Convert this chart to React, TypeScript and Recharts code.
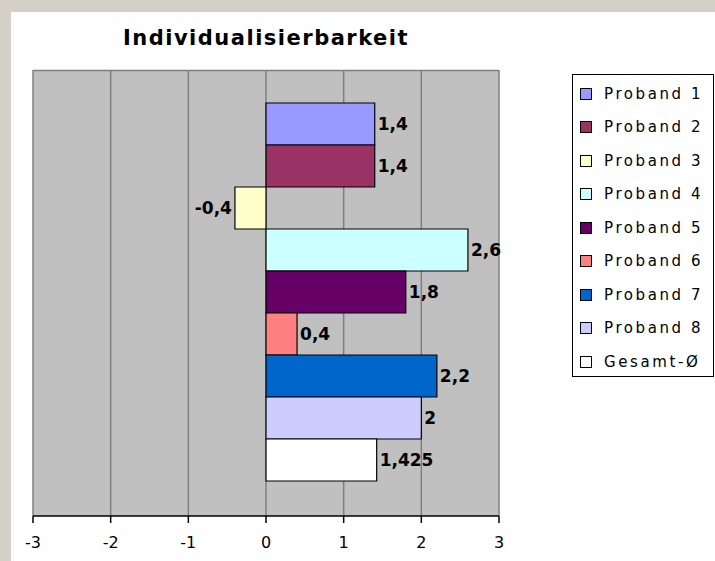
import React from 'react';
import { BarChart, Bar, XAxis, YAxis, CartesianGrid, LabelList } from 'recharts';

const seriesNames = ['Proband 1', 'Proband 2', 'Proband 3', 'Proband 4', 'Proband 5', 'Proband 6', 'Proband 7', 'Proband 8', 'Gesamt-Ø'];
const seriesValues = [1.4, 1.4, -0.4, 2.6, 1.8, 0.4, 2.2, 2, 1.425];
const seriesColors = ['#9999FF', '#993366', '#FFFFCC', '#CCFFFF', '#660066', '#FF8080', '#0066CC', '#CCCCFF', '#FFFFFF'];
const xTicks = [-3, -2, -1, 0, 1, 2, 3];

const row: Record<string, number | string> = { name: 'Individualisierbarkeit' };
seriesNames.forEach((n, i) => {
  row['s' + i] = seriesValues[i];
});
const data = [row];

const fmt = (v: any) => String(v).replace('.', ',');

export default function App() {
  return (
    <div style={{ position: 'absolute', left: 0, top: 0, width: 715, height: 561, background: '#D4D0C8', overflow: 'hidden' }}>
      <div style={{ position: 'absolute', left: 11, top: 12, width: 704, height: 549, background: '#fff' }} />
      <div
        style={{
          position: 'absolute',
          left: 0,
          top: 26,
          width: 532,
          textAlign: 'center',
          fontFamily: 'DejaVu Sans',
          fontWeight: 'bold',
          fontSize: 21,
          letterSpacing: 1.5,
          color: '#000',
          lineHeight: '24px',
        }}
      >
        Individualisierbarkeit
      </div>
      <div style={{ position: 'absolute', left: 0, top: 0 }}>
        <BarChart
          width={715}
          height={561}
          data={data}
          layout="vertical"
          margin={{ top: 70, left: 33, right: 216, bottom: 0 }}
          barGap={0}
          barCategoryGap="7.4%"
        >
          <CartesianGrid
            fill="#C0C0C0"
            fillOpacity={1}
            stroke="#808080"
            strokeWidth={1.5}
            horizontalPoints={[70.5]}
          />
          <XAxis
            type="number"
            domain={[-3, 3]}
            ticks={xTicks}
            height={45}
            tickSize={7}
            tickMargin={14}
            axisLine={{ stroke: '#000', strokeWidth: 1.5 }}
            tickLine={{ stroke: '#000', strokeWidth: 1.5 }}
            tick={{ fill: '#000', fontSize: 16, fontFamily: 'DejaVu Sans' }}
            interval={0}
          />
          <YAxis type="category" dataKey="name" hide />
          {seriesNames.map((n, i) => (
            <Bar
              key={n}
              dataKey={'s' + i}
              name={n}
              fill={seriesColors[i]}
              stroke="#000"
              strokeWidth={1.2}
              isAnimationActive={false}
            >
              <LabelList
                dataKey={'s' + i}
                position="right"
                offset={3}
                formatter={fmt}
                fill="#000"
                fontSize={17}
                fontWeight="bold"
                fontFamily="DejaVu Sans"
              />
            </Bar>
          ))}
        </BarChart>
      </div>
      <div
        style={{
          position: 'absolute',
          left: 572,
          top: 74,
          width: 140,
          height: 299,
          border: '1px solid #000',
          background: '#fff',
          paddingTop: 2,
          boxSizing: 'content-box',
        }}
      >
        {seriesNames.map((n, i) => (
          <div
            key={n}
            style={{
              height: 33.5,
              display: 'flex',
              alignItems: 'center',
              fontFamily: 'DejaVu Sans',
              fontSize: 15,
              letterSpacing: 2.6,
              color: '#000',
              whiteSpace: 'nowrap',
            }}
          >
            <span
              style={{
                display: 'inline-block',
                width: 10,
                height: 10,
                marginLeft: 7,
                marginRight: 12,
                border: '1px solid #000',
                background: seriesColors[i],
              }}
            />
            {n}
          </div>
        ))}
      </div>
    </div>
  );
}
